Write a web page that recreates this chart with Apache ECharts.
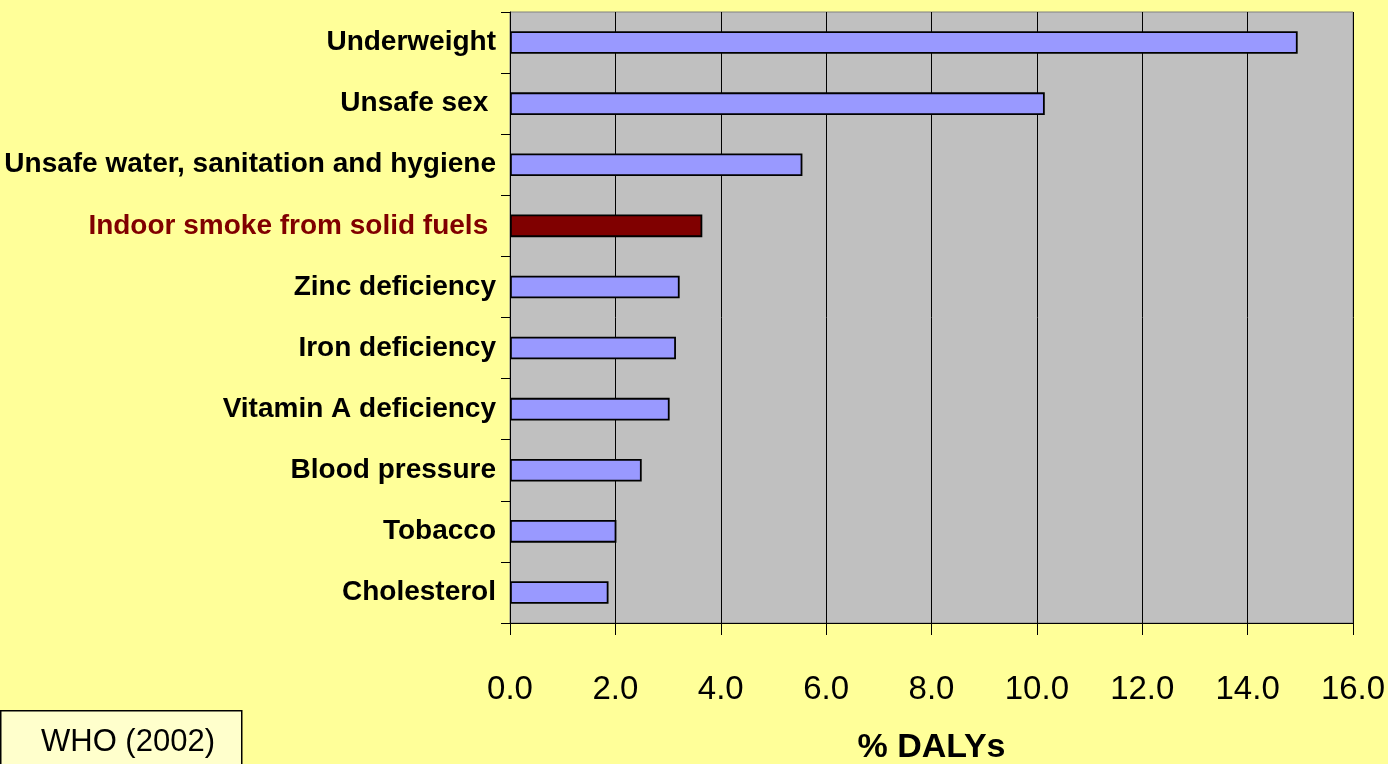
<!DOCTYPE html>
<html>
<head>
<meta charset="utf-8">
<script src="https://cdn.jsdelivr.net/npm/echarts@6/dist/echarts.min.js"></script>
<style>
  html, body { margin: 0; padding: 0; background: #FFFF99; }
  #main { width: 1388px; height: 764px; }
</style>
</head>
<body>
<div id="main"></div>
<script>
// risk factors, top to bottom
var riskFactors = ['Underweight', 'Unsafe sex ', 'Unsafe water, sanitation and hygiene',
    'Indoor smoke from solid fuels ', 'Zinc deficiency', 'Iron deficiency',
    'Vitamin A deficiency', 'Blood pressure', 'Tobacco', 'Cholesterol'];
var dalys = [14.95, 10.15, 5.55, 3.65, 3.22, 3.15, 3.03, 2.5, 2.02, 1.87];
var highlighted = 'Indoor smoke from solid fuels ';
var xTicks = [0, 2, 4, 6, 8, 10, 12, 14, 16];

var chart = echarts.init(document.getElementById('main'));

var barData = dalys.map(function (v, i) {
    var hot = riskFactors[i] === highlighted;
    return {
        value: v,
        itemStyle: { color: hot ? '#800000' : '#9999FF' }
    };
});

var option = {
    backgroundColor: '#FFFF99',
    animation: false,
    grid: {
        left: 510, right: 35, top: 12, bottom: 141,
        outerBoundsMode: 'none',
        containLabel: false,
        show: true,
        backgroundColor: '#C0C0C0',
        borderColor: '#808080',
        borderWidth: 1
    },
    xAxis: {
        type: 'value',
        min: xTicks[0],
        max: xTicks[xTicks.length - 1],
        interval: 2,
        name: '% DALYs',
        nameLocation: 'middle',
        nameGap: 108,
        nameTextStyle: { fontFamily: 'Liberation Sans', fontWeight: 'bold', fontSize: 34, color: '#000' },
        axisLine: { show: true, lineStyle: { color: '#000', width: 1 } },
        axisTick: { show: true, length: 12, lineStyle: { color: '#000' } },
        axisLabel: {
            margin: 50,
            fontFamily: 'Liberation Sans',
            fontSize: 33,
            color: '#000',
            hideOverlap: false,
            formatter: function (v) { return v.toFixed(1); }
        },
        splitLine: { show: true, lineStyle: { color: '#000', width: 1 } }
    },
    yAxis: {
        type: 'category',
        inverse: true,
        data: riskFactors,
        axisLine: { show: true, lineStyle: { color: '#000', width: 1 } },
        axisTick: { show: true, length: 9, alignWithLabel: false, lineStyle: { color: '#000' } },
        axisLabel: {
            margin: 14,
            fontFamily: 'Liberation Sans',
            fontWeight: 'bold',
            fontSize: 28,
            color: function (v) { return v === highlighted ? '#800000' : '#000'; }
        }
    },
    series: [{
        type: 'bar',
        data: barData,
        barWidth: '37%',
        itemStyle: { borderColor: '#000', borderWidth: 1.8 }
    }],
    graphic: [{
        type: 'rect',
        left: 0, top: 710,
        shape: { width: 241, height: 60 },
        style: { fill: '#FFFFCC', stroke: '#000', lineWidth: 1.5 }
    }, {
        type: 'text',
        left: 41, top: 727,
        style: { text: 'WHO (2002)', font: '31px "Liberation Sans"', fill: '#000' }
    }]
};

chart.setOption(option);
window.onresize = function () {
    setTimeout(function () {
        chart.resize();
    }, 200);
};
</script>
</body>
</html>
